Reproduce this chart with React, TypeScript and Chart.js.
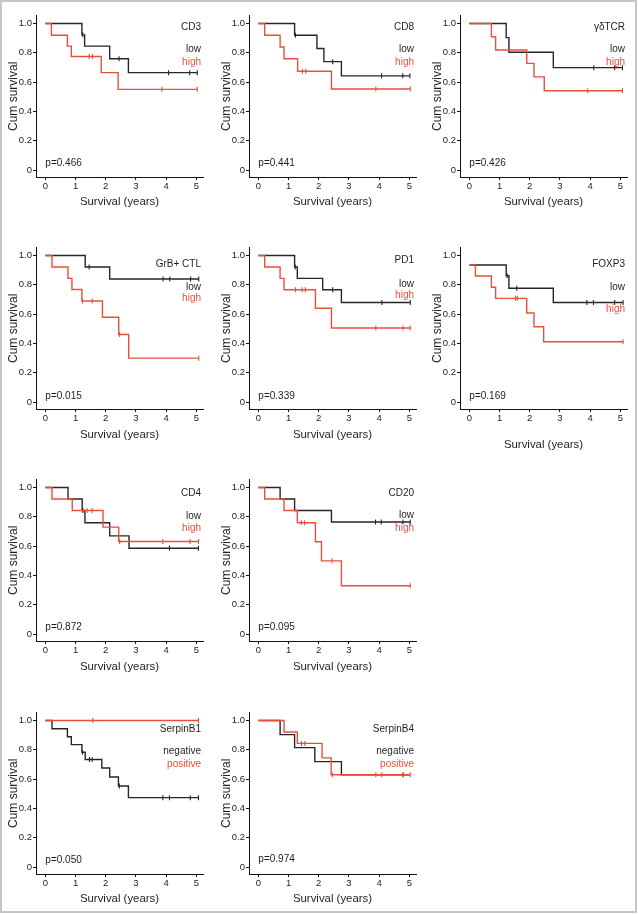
import React, { useEffect, useRef } from 'react';
import { Chart, registerables } from 'chart.js';
Chart.register(...registerables);

const FONT = '"Liberation Sans", Arial, Helvetica, sans-serif';
const BLACK = '#262626';
const RED = '#e8503c';

const xTicks = [0, 1, 2, 3, 4, 5];
const yTicks = [0, 0.2, 0.4, 0.6, 0.8, 1.0];
const yTickLabels = ['0', '0.2', '0.4', '0.6', '0.8', '1.0'];

// CD3
const cd3LowT = [0, 1.21, 1.3, 2.13, 2.75, 5.03];
const cd3LowS = [1, 0.923, 0.846, 0.76, 0.665, 0.665];
const cd3LowC = [1.24, 2.44, 4.08, 4.78, 5.03];
const cd3HighT = [0, 0.2, 0.73, 0.86, 1.85, 2.41, 5.03];
const cd3HighS = [1, 0.92, 0.846, 0.775, 0.665, 0.551, 0.551];
const cd3HighC = [1.45, 1.56, 3.86, 5.03];
// CD8
const cd8LowT = [0, 1.2, 1.94, 2.17, 2.75, 5.02];
const cd8LowS = [1, 0.92, 0.83, 0.74, 0.643, 0.643];
const cd8LowC = [1.23, 2.46, 4.08, 4.78, 5.02];
const cd8HighT = [0, 0.21, 0.72, 0.85, 1.3, 2.42, 5.03];
const cd8HighS = [1, 0.92, 0.84, 0.76, 0.675, 0.553, 0.553];
const cd8HighC = [1.46, 1.57, 3.89, 5.03];
// γδTCR
const gdLowT = [0, 1.22, 1.31, 2.78, 5.07];
const gdLowS = [1, 0.904, 0.804, 0.699, 0.699];
const gdLowC = [4.12, 4.81, 5.07];
const gdHighT = [0, 0.73, 0.87, 1.9, 2.14, 2.48, 5.07];
const gdHighS = [1, 0.91, 0.82, 0.728, 0.636, 0.542, 0.542];
const gdHighC = [3.92, 5.07];
// GrB+ CTL
const grbLowT = [0, 1.32, 2.13, 5.08];
const grbLowS = [1, 0.922, 0.84, 0.84];
const grbLowC = [1.45, 3.9, 4.12, 4.81, 5.08];
const grbHighT = [0, 0.22, 0.75, 0.88, 1.21, 1.89, 2.43, 2.76, 5.08];
const grbHighS = [1, 0.922, 0.844, 0.768, 0.69, 0.579, 0.461, 0.3, 0.3];
const grbHighC = [1.23, 1.55, 2.46, 5.08];
// PD1
const pd1LowT = [0, 1.2, 1.29, 2.13, 2.75, 5.03];
const pd1LowS = [1, 0.922, 0.844, 0.767, 0.68, 0.68];
const pd1LowC = [1.22, 2.46, 4.09, 5.03];
const pd1HighT = [0, 0.21, 0.72, 0.85, 1.89, 2.42, 5.03];
const pd1HighS = [1, 0.922, 0.844, 0.767, 0.64, 0.506, 0.506];
const pd1HighC = [1.23, 1.45, 1.56, 3.89, 4.79, 5.03];
// FOXP3
const foxLowT = [0, 1.22, 1.31, 2.78, 5.09];
const foxLowS = [0.935, 0.862, 0.777, 0.68, 0.68];
const foxLowC = [1.25, 1.57, 3.89, 4.11, 4.81, 5.09];
const foxHighT = [0, 0.2, 0.73, 0.87, 1.9, 2.14, 2.46, 5.09];
const foxHighS = [0.935, 0.86, 0.784, 0.708, 0.608, 0.514, 0.412, 0.412];
const foxHighC = [1.53, 1.59, 5.09];
// CD4
const cd4LowT = [0, 0.75, 1.22, 1.31, 2.13, 2.77, 5.07];
const cd4LowS = [1, 0.922, 0.843, 0.76, 0.67, 0.586, 0.586];
const cd4LowC = [1.24, 4.11, 5.07];
const cd4HighT = [0, 0.22, 0.89, 1.91, 2.43, 5.07];
const cd4HighS = [1, 0.922, 0.843, 0.73, 0.632, 0.632];
const cd4HighC = [1.38, 1.55, 2.46, 3.89, 4.79, 5.07];
// CD20
const cd20LowT = [0, 0.72, 1.2, 2.42, 5.03];
const cd20LowS = [1, 0.922, 0.843, 0.765, 0.765];
const cd20LowC = [3.88, 4.07, 4.79, 5.03];
const cd20HighT = [0, 0.21, 0.85, 1.29, 1.89, 2.09, 2.75, 5.03];
const cd20HighS = [1, 0.922, 0.843, 0.76, 0.63, 0.5, 0.33, 0.33];
const cd20HighC = [1.42, 1.53, 2.44, 5.03];
// SerpinB1
const sb1NegT = [0, 0.22, 0.73, 0.86, 1.21, 1.32, 1.87, 2.13, 2.42, 2.75, 5.07];
const sb1NegS = [1, 0.944, 0.889, 0.836, 0.784, 0.734, 0.676, 0.615, 0.553, 0.474, 0.474];
const sb1NegC = [1.23, 1.46, 1.55, 2.45, 3.89, 4.11, 4.8, 5.07];
const sb1PosT = [0, 5.07];
const sb1PosS = [1, 1];
const sb1PosC = [1.57, 5.07];
// SerpinB4
const sb4NegT = [0, 0.72, 1.2, 1.87, 2.75, 5.03];
const sb4NegS = [1, 0.904, 0.815, 0.72, 0.63, 0.63];
const sb4NegC = [4.79];
const sb4PosT = [0, 0.85, 1.29, 2.11, 2.41, 5.03];
const sb4PosS = [1, 0.922, 0.844, 0.745, 0.63, 0.63];
const sb4PosC = [1.43, 1.54, 2.45, 3.89, 4.09, 5.03];

type Group = { t: number[]; s: number[]; c: number[]; color: string; label: string; labelY: number };
type Panel = {
  name: string; nameY: number; p: string; pY: number;
  row: number; col: number; titleGap: number; groups: Group[];
};

const g = (t: number[], s: number[], c: number[], color: string, label: string, labelY: number): Group =>
  ({ t, s, c, color, label, labelY });

const panels: Panel[] = [
  { name: 'CD3', nameY: 0.978, p: 'p=0.466', pY: 0.045, row: 0, col: 0, titleGap: 25,
    groups: [g(cd3LowT, cd3LowS, cd3LowC, BLACK, 'low', 0.826), g(cd3HighT, cd3HighS, cd3HighC, RED, 'high', 0.737)] },
  { name: 'CD8', nameY: 0.978, p: 'p=0.441', pY: 0.045, row: 0, col: 1, titleGap: 25,
    groups: [g(cd8LowT, cd8LowS, cd8LowC, BLACK, 'low', 0.826), g(cd8HighT, cd8HighS, cd8HighC, RED, 'high', 0.737)] },
  { name: 'γδTCR', nameY: 0.978, p: 'p=0.426', pY: 0.045, row: 0, col: 2, titleGap: 25,
    groups: [g(gdLowT, gdLowS, gdLowC, BLACK, 'low', 0.826), g(gdHighT, gdHighS, gdHighC, RED, 'high', 0.737)] },
  { name: 'GrB+ CTL', nameY: 0.944, p: 'p=0.015', pY: 0.04, row: 1, col: 0, titleGap: 26,
    groups: [g(grbLowT, grbLowS, grbLowC, BLACK, 'low', 0.784), g(grbHighT, grbHighS, grbHighC, RED, 'high', 0.711)] },
  { name: 'PD1', nameY: 0.967, p: 'p=0.339', pY: 0.04, row: 1, col: 1, titleGap: 26,
    groups: [g(pd1LowT, pd1LowS, pd1LowC, BLACK, 'low', 0.806), g(pd1HighT, pd1HighS, pd1HighC, RED, 'high', 0.728)] },
  { name: 'FOXP3', nameY: 0.944, p: 'p=0.169', pY: 0.04, row: 1, col: 2, titleGap: 36,
    groups: [g(foxLowT, foxLowS, foxLowC, BLACK, 'low', 0.784), g(foxHighT, foxHighS, foxHighC, RED, 'high', 0.633)] },
  { name: 'CD4', nameY: 0.962, p: 'p=0.872', pY: 0.045, row: 2, col: 0, titleGap: 26,
    groups: [g(cd4LowT, cd4LowS, cd4LowC, BLACK, 'low', 0.805), g(cd4HighT, cd4HighS, cd4HighC, RED, 'high', 0.725)] },
  { name: 'CD20', nameY: 0.962, p: 'p=0.095', pY: 0.045, row: 2, col: 1, titleGap: 26,
    groups: [g(cd20LowT, cd20LowS, cd20LowC, BLACK, 'low', 0.814), g(cd20HighT, cd20HighS, cd20HighC, RED, 'high', 0.725)] },
  { name: 'SerpinB1', nameY: 0.94, p: 'p=0.050', pY: 0.05, row: 3, col: 0, titleGap: 25,
    groups: [g(sb1NegT, sb1NegS, sb1NegC, BLACK, 'negative', 0.79), g(sb1PosT, sb1PosS, sb1PosC, RED, 'positive', 0.70)] },
  { name: 'SerpinB4', nameY: 0.944, p: 'p=0.974', pY: 0.055, row: 3, col: 1, titleGap: 25,
    groups: [g(sb4NegT, sb4NegS, sb4NegC, BLACK, 'negative', 0.79), g(sb4PosT, sb4PosS, sb4PosC, RED, 'positive', 0.70)] },
];

const COL_AXIS_X = [36, 249, 460];
const ROW_ONE_Y = [21, 253, 485, 718];
const Y_SCALE_W = 36;
const PLOT_W = 167;
const PLOT_H = 164;
const PAD_TOP = 4;
const PAD_RIGHT = 8;
const X_SCALE_H = 50;
const CANVAS_W = Y_SCALE_W + PLOT_W + PAD_RIGHT;
const CANVAS_H = PAD_TOP + PLOT_H + X_SCALE_H;

function survAt(gr: Group, x: number): number {
  let v = gr.s[0];
  for (let i = 0; i < gr.t.length; i++) if (gr.t[i] <= x) v = gr.s[i];
  return v;
}

function KMPanel({ panel }: { panel: Panel }) {
  const ref = useRef<HTMLCanvasElement>(null);
  useEffect(() => {
    if (!ref.current) return;
    const datasets: any[] = [];
    panel.groups.forEach((gr) => {
      const order = gr.color === RED ? 0 : 1;
      datasets.push({
        type: 'line',
        data: gr.t.map((x, i) => ({ x, y: gr.s[i] })),
        stepped: true,
        borderColor: gr.color,
        borderWidth: 1.4,
        pointRadius: 0,
        fill: false,
        order,
      });
      datasets.push({
        type: 'line',
        data: gr.c.map((x) => ({ x, y: survAt(gr, x) })),
        showLine: false,
        pointStyle: 'line',
        rotation: 90,
        pointRadius: 2.5,
        pointBorderWidth: 1.1,
        borderColor: gr.color,
        backgroundColor: gr.color,
        order,
      });
    });
    const labelPlugin = {
      id: 'kmLabels',
      afterDatasetsDraw(chart: any) {
        const { ctx, chartArea, scales } = chart;
        const ys = scales.y;
        const xs = scales.x;
        ctx.save();
        ctx.font = `10px ${FONT}`;
        ctx.textBaseline = 'middle';
        ctx.textAlign = 'right';
        const rx = chartArea.right - 2;
        ctx.fillStyle = '#1e1e1e';
        ctx.fillText(panel.name, rx, ys.getPixelForValue(panel.nameY));
        panel.groups.forEach((gr) => {
          ctx.fillStyle = gr.color;
          ctx.fillText(gr.label, rx, ys.getPixelForValue(gr.labelY));
        });
        ctx.textAlign = 'left';
        ctx.fillStyle = '#1e1e1e';
        ctx.fillText(panel.p, xs.getPixelForValue(0), ys.getPixelForValue(panel.pY));
        ctx.restore();
      },
    };
    const tickFont = { family: FONT, size: 9.5 };
    const chart = new Chart(ref.current, {
      type: 'line',
      data: { datasets },
      plugins: [labelPlugin],
      options: {
        responsive: false,
        animation: false,
        devicePixelRatio: 1,
        layout: { padding: { top: PAD_TOP, right: PAD_RIGHT, left: 0, bottom: 0 } },
        plugins: { legend: { display: false }, tooltip: { enabled: false } },
        scales: {
          x: {
            type: 'linear',
            min: -0.31,
            max: 5.22,
            afterBuildTicks: (s: any) => { s.ticks = xTicks.map((v) => ({ value: v })); },
            afterFit: (s: any) => { s.height = X_SCALE_H; },
            grid: { display: true, drawOnChartArea: false, drawTicks: true, tickLength: 3, color: '#111', lineWidth: 1 },
            border: { display: true, color: '#111', width: 1 },
            ticks: { font: tickFont, color: '#1e1e1e', padding: 1, maxRotation: 0, autoSkip: false,
              callback: (v: any, i: number) => String(xTicks[i]) },
            title: { display: true, text: 'Survival (years)', color: '#1e1e1e',
              font: { family: FONT, size: 11.4 },
              padding: { top: 0, bottom: X_SCALE_H - 6.8 - panel.titleGap } },
          },
          y: {
            type: 'linear',
            min: -0.0469,
            max: 1.0535,
            afterBuildTicks: (s: any) => { s.ticks = yTicks.map((v) => ({ value: v })); },
            afterFit: (s: any) => { s.width = Y_SCALE_W; },
            grid: { display: true, drawOnChartArea: false, drawTicks: true, tickLength: 3, color: '#111', lineWidth: 1 },
            border: { display: true, color: '#111', width: 1 },
            ticks: { font: tickFont, color: '#1e1e1e', padding: 1, autoSkip: false,
              callback: (v: any, i: number) => yTickLabels[i] },
            title: { display: true, text: 'Cum survival', color: '#1e1e1e',
              font: { family: FONT, size: 12 }, padding: { top: 6, bottom: 0 } },
          },
        },
      } as any,
    });
    return () => chart.destroy();
  }, [panel]);
  const left = COL_AXIS_X[panel.col] - Y_SCALE_W;
  const top = ROW_ONE_Y[panel.row] - 8 - PAD_TOP;
  return (
    <canvas
      ref={ref}
      width={CANVAS_W}
      height={CANVAS_H}
      style={{ position: 'absolute', left, top, width: CANVAS_W, height: CANVAS_H }}
    />
  );
}

export default function App() {
  return (
    <div style={{ position: 'absolute', left: 0, top: 0, width: 638, height: 914, background: '#fff' }}>
      {panels.map((p) => (
        <KMPanel key={p.name} panel={p} />
      ))}
      <div style={{ position: 'absolute', left: 0, top: 0, width: 637, height: 913,
        boxSizing: 'border-box', border: '2px solid #c6c6c6', pointerEvents: 'none' }} />
    </div>
  );
}
